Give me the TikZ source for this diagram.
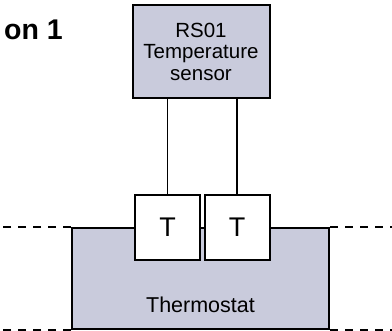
\documentclass[tikz,border=0pt]{standalone}
\usepackage{fontspec}
\setmainfont{Liberation Sans}
\usetikzlibrary{positioning}
\definecolor{unitgray}{RGB}{201,203,220}

\begin{document}
\begin{tikzpicture}[x=1pt, y=-1pt,
    unit/.style={draw, line width=2pt, fill=unitgray, inner sep=0pt},
    probe/.style={draw, line width=2pt, fill=white, minimum width=65pt, minimum height=65pt, inner sep=0pt, font=\fontsize{27}{29}\selectfont},
    wire/.style={line width=1.8pt},
    rail/.style={line width=1.5pt, dash pattern=on 8pt off 7pt}]
    \useasboundingbox (0,0) rectangle (392,331);

    \node [anchor=base east, inner sep=0pt, font=\fontsize{28.5}{30}\selectfont\bfseries] (title) at (63,40) {on 1};

    \node [unit, minimum width=137pt, minimum height=93pt, align=center,
           font=\fontsize{20.5}{21.5}\selectfont] (sensor) at (201,51.5)
          {RS01\\Temperature\\sensor};

    \node [unit, minimum width=257pt, minimum height=101pt] (thermo) at (200.5,278.5) {};
    \node [anchor=base, font=\fontsize{21.5}{23}\selectfont] (thermolabel) at ([yshift=17pt]thermo.south) {Thermostat};

    \node [probe] (tl) at (167.5,227.5) {T};
    \node [probe] (tr) at (237,227.5) {T};

    \coordinate (lend) at (0,0);
    \coordinate (rend) at (392,0);

    \draw [wire] (tl.north) -- (tl.north |- sensor.south);
    \draw [wire] (tr.north) -- (tr.north |- sensor.south);

    \draw [rail] (thermo.north west) -- (thermo.north west -| lend);
    \draw [rail] (thermo.south west) -- (thermo.south west -| lend);
    \draw [rail] (thermo.north east) -- (thermo.north east -| rend);
    \draw [rail] (thermo.south east) -- (thermo.south east -| rend);
\end{tikzpicture}
\end{document}
